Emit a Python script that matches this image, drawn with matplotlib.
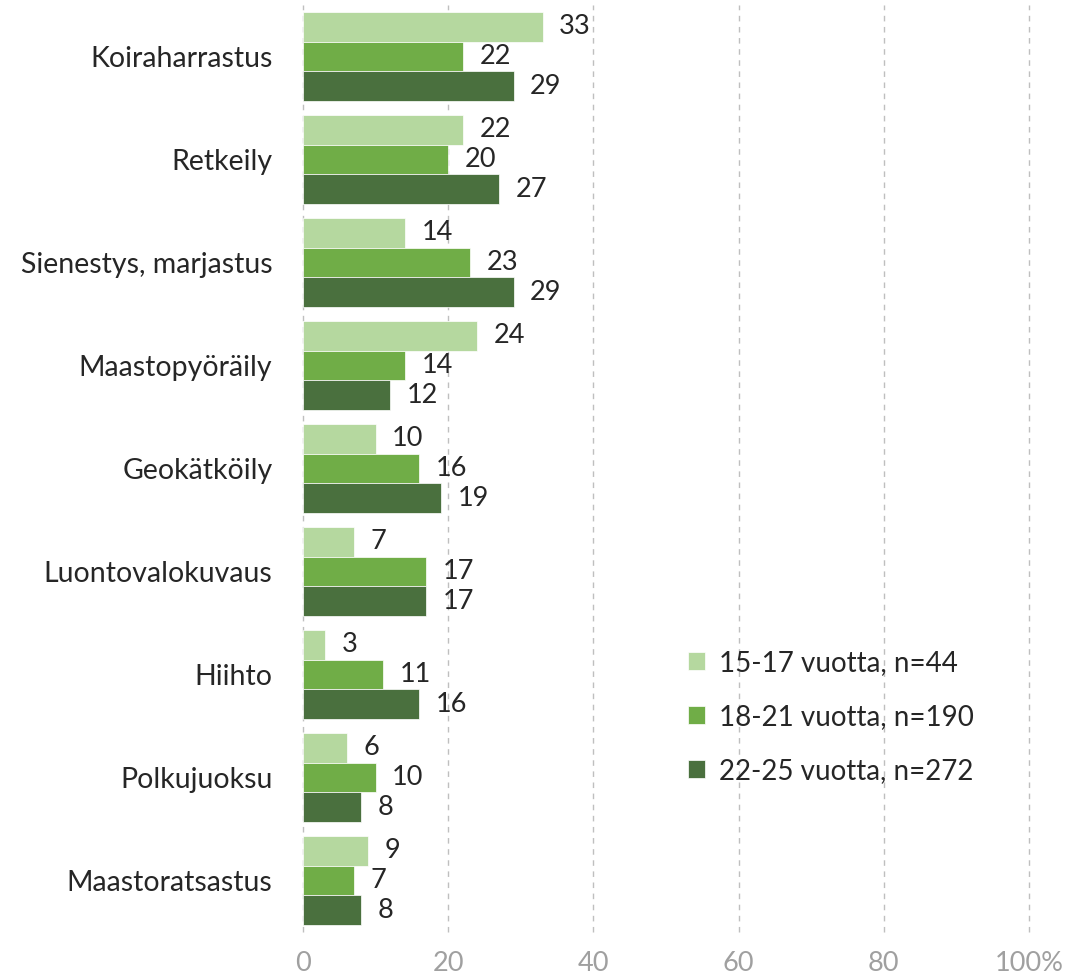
import matplotlib
matplotlib.use("Agg")
import matplotlib.pyplot as plt
import numpy as np

categories = ["Koiraharrastus", "Retkeily", "Sienestys, marjastus", "Maastopyöräily",
              "Geokätköily", "Luontovalokuvaus", "Hiihto", "Polkujuoksu", "Maastoratsastus"]
series_names = ["15-17 vuotta, n=44", "18-21 vuotta, n=190", "22-25 vuotta, n=272"]
s1 = [33, 22, 14, 24, 10, 7, 3, 6, 9]
s2 = [22, 20, 23, 14, 16, 17, 11, 10, 7]
s3 = [29, 27, 29, 12, 19, 17, 16, 8, 8]
xticks = [0, 20, 40, 60, 80, 100]
xticklabels = ["0", "20", "40", "60", "80", "100%"]
colors = ["#B5D89F", "#70AD47", "#4A703E"]

plt.rcParams['font.family'] = ['Lato', 'DejaVu Sans']
FS = 19.5

fig = plt.figure(figsize=(10.76, 9.8), dpi=100)
ax = fig.add_axes([303/1076, 1-932/980, (1029-303)/1076, (932-5)/980])

n = len(categories)
y = np.arange(n)
h = 0.29
for i, (vals, col, name) in enumerate(zip([s1, s2, s3], colors, series_names)):
    pos = y + (i - 1) * h
    bars = ax.barh(pos, vals, height=h, color=col, label=name, zorder=3,
                   edgecolor="white", linewidth=0.5)
    for b, v in zip(bars, vals):
        ax.annotate(f"{v}", (b.get_width(), b.get_y() + b.get_height()/2),
                    xytext=(12, 0), textcoords="offset points",
                    va="center", ha="left", fontsize=FS, color="#262626")

ax.set_ylim(n - 0.5, -0.5)
ax.set_xlim(0, 100)
ax.set_yticks(y)
ax.set_yticklabels(categories, fontsize=20.5, color="#262626")
ax.set_xticks(xticks)
ax.set_xticklabels(xticklabels, fontsize=FS, color="#A0A0A0")
ax.tick_params(length=0, axis="both")
ax.tick_params(axis="x", pad=14)
ax.tick_params(axis="y", pad=22)
for s in ax.spines.values():
    s.set_visible(False)
for xv in xticks:
    ax.axvline(xv, linestyle=(0, (4, 4)), color="#BFBFBF", linewidth=1, zorder=0, clip_on=False)

leg = ax.legend(loc="upper left", bbox_to_anchor=(663/1076, 1-625/980), bbox_transform=fig.transFigure,
                frameon=False, fontsize=20, handlelength=0.6, handleheight=0.6,
                handletextpad=0.5, labelspacing=1.0, labelcolor="#262626")

fig.savefig("out.png", dpi=100)
